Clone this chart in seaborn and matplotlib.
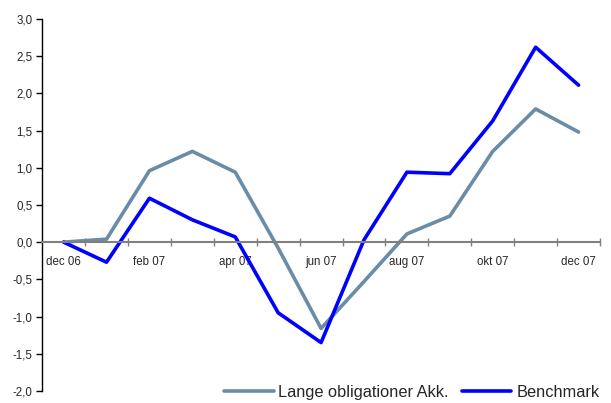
import numpy as np
import pandas as pd
import matplotlib
matplotlib.use("Agg")
import matplotlib.pyplot as plt
import seaborn as sns

months = ["dec 06", "jan 07", "feb 07", "mar 07", "apr 07", "maj 07", "jun 07",
          "jul 07", "aug 07", "sep 07", "okt 07", "nov 07", "dec 07"]
lange = [0.0, 0.04, 0.96, 1.22, 0.94, -0.08, -1.16, -0.53, 0.11, 0.35, 1.22, 1.79, 1.48]
benchmark = [0.0, -0.27, 0.59, 0.30, 0.07, -0.95, -1.35, 0.03, 0.94, 0.92, 1.63, 2.62, 2.11]

def fmt(v, pos=None):
    return f"{v:.1f}".replace(".", ",")

def main():
    sns.set_style("white")
    plt.rcParams["font.family"] = ["Liberation Sans", "DejaVu Sans"]

    df = pd.DataFrame({"pos": np.arange(len(months)),
                       "Lange obligationer Akk.": lange,
                       "Benchmark": benchmark})
    long = df.melt(id_vars="pos", var_name="serie", value_name="val")

    fig = plt.figure(figsize=(6.11, 4.03), dpi=100)
    ax = fig.add_axes([0.069, 0.030, 0.913, 0.923])

    sns.lineplot(data=long, x="pos", y="val", hue="serie",
                 palette={"Lange obligationer Akk.": "#6A8CA6", "Benchmark": "#0000FF"},
                 linewidth=2.6, ax=ax, legend=False)

    ax.set_xlim(-0.5, 12.5)
    ax.set_ylim(-2.0, 3.0)
    ax.set_yticks(np.arange(-2.0, 3.01, 0.5))
    ax.yaxis.set_major_formatter(plt.FuncFormatter(fmt))
    ax.set_xlabel("")
    ax.set_ylabel("")

    # category axis on the zero line, ticks between the months
    ax.spines["bottom"].set_position(("data", 0))
    ax.spines["bottom"].set_color("#808080")
    ax.spines["bottom"].set_linewidth(1.5)
    ax.spines["top"].set_visible(False)
    ax.spines["right"].set_visible(False)
    ax.spines["left"].set_color("black")
    ax.spines["left"].set_linewidth(1.0)

    ax.set_xticks(np.arange(0, 13, 2))
    ax.set_xticklabels(months[::2])
    ax.set_xticks(np.arange(0.5, 12.6, 1), minor=True)
    ax.tick_params(axis="x", which="major", length=0, pad=10, labelsize=8.3)
    ax.tick_params(axis="x", which="minor", direction="inout", length=6,
                   width=1, color="#808080", bottom=True)
    ax.tick_params(axis="y", direction="out", length=4, width=1, color="black",
                   labelsize=8.3, left=True, pad=3)

    ax.set_zorder(1)
    handles = [plt.Line2D([], [], color="#6A8CA6", lw=2.6),
               plt.Line2D([], [], color="#0000FF", lw=2.6)]
    fig.legend(handles, ["Lange obligationer Akk.", "Benchmark"], loc="lower right",
               bbox_to_anchor=(1.005, -0.028), ncol=2, frameon=False, fontsize=11.8,
               handlelength=3.0, handletextpad=0.3, columnspacing=0.8)

    fig.savefig("out.png", dpi=100)

if __name__ == "__main__":
    main()
